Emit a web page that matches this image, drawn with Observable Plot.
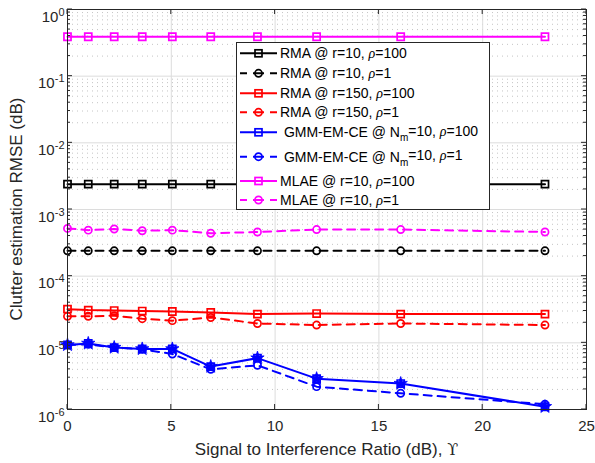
<!DOCTYPE html>
<html><head><meta charset="utf-8">
<script src="https://cdn.jsdelivr.net/npm/d3@7"></script>
<script src="https://cdn.jsdelivr.net/npm/@observablehq/plot@0.6"></script>
<style>
body{margin:0;background:#fff}
#chart{width:595px;height:463px}
</style>
</head><body><div id="chart"></div>
<script>
// ---- data ----
const sir = [0, 1, 2.25, 3.6, 5.05, 6.9, 9.15, 12, 16.05, 23];
const rma10_rho100  = [2.4e-3, 2.4e-3, 2.4e-3, 2.4e-3, 2.4e-3, 2.4e-3, 2.4e-3, 2.4e-3, 2.4e-3, 2.4e-3];
const rma10_rho1    = [2.4e-4, 2.4e-4, 2.4e-4, 2.4e-4, 2.4e-4, 2.4e-4, 2.4e-4, 2.4e-4, 2.4e-4, 2.4e-4];
const rma150_rho100 = [3.2e-5, 3.1e-5, 3.05e-5, 3.0e-5, 2.95e-5, 2.85e-5, 2.7e-5, 2.75e-5, 2.7e-5, 2.7e-5];
const rma150_rho1   = [2.5e-5, 2.5e-5, 2.55e-5, 2.3e-5, 2.15e-5, 2.4e-5, 1.95e-5, 1.85e-5, 1.95e-5, 1.85e-5];
const gmm_rho100    = [9.3e-6, 9.8e-6, 8.5e-6, 8.1e-6, 8.1e-6, 4.4e-6, 5.9e-6, 2.9e-6, 2.45e-6, 1.1e-6];
const gmm_rho1      = [9.3e-6, 9.5e-6, 8.5e-6, 8.0e-6, 6.8e-6, 4.0e-6, 4.6e-6, 2.2e-6, 1.75e-6, 1.2e-6];
const mlae_rho100   = [0.39, 0.39, 0.39, 0.39, 0.39, 0.39, 0.39, 0.39, 0.39, 0.39];
const mlae_rho1     = [5.2e-4, 4.9e-4, 5.1e-4, 4.8e-4, 4.9e-4, 4.4e-4, 4.6e-4, 5.0e-4, 5.0e-4, 4.6e-4];

const xTicks = [0, 5, 10, 15, 20, 25];
const yTicks = [1e-6, 1e-5, 1e-4, 1e-3, 1e-2, 1e-1, 1];
const yMinor = [];
for (let e = -6; e < 0; e++) for (let m = 2; m <= 9; m++) yMinor.push(m * Math.pow(10, e));

const xLabel = "Signal to Interference Ratio (dB),";
const xLabelSym = "\u03D2";
const yLabel = "Clutter estimation RMSE (dB)";

const series = [
  {key: "rma10_100",  vals: rma10_rho100,  color: "#000000", dashed: false, symbol: "square", pre: "RMA @ r=10, ", rho: "100"},
  {key: "rma10_1",    vals: rma10_rho1,    color: "#000000", dashed: true,  symbol: "circle", pre: "RMA @ r=10, ", rho: "1"},
  {key: "rma150_100", vals: rma150_rho100, color: "#ff0000", dashed: false, symbol: "square", pre: "RMA @ r=150, ", rho: "100"},
  {key: "rma150_1",   vals: rma150_rho1,   color: "#ff0000", dashed: true,  symbol: "circle", pre: "RMA @ r=150, ", rho: "1"},
  {key: "gmm_100",    vals: gmm_rho100,    color: "#0000ff", dashed: false, symbol: "square", pre: " GMM-EM-CE @ N", sub: "m", post: "=10, ", rho: "100"},
  {key: "gmm_1",      vals: gmm_rho1,      color: "#0000ff", dashed: true,  symbol: "circle", pre: " GMM-EM-CE @ N", sub: "m", post: "=10, ", rho: "1"},
  {key: "mlae_100",   vals: mlae_rho100,   color: "#ff00ff", dashed: false, symbol: "square", pre: "MLAE @ r=10, ", rho: "100"},
  {key: "mlae_1",     vals: mlae_rho1,     color: "#ff00ff", dashed: true,  symbol: "circle", pre: "MLAE @ r=10, ", rho: "1"}
];

const rows = s => sir.map((x, i) => ({x, y: s.vals[i]}));
const DASH = "8,6";

const marks = [
  Plot.ruleY(yMinor, {stroke: "#bdbdbd", strokeDasharray: "1,4", strokeWidth: 0.9}),
  Plot.ruleY(yTicks, {stroke: "#dcdcdc", strokeWidth: 1}),
  Plot.ruleX(xTicks, {stroke: "#dcdcdc", strokeWidth: 1})
];
for (const s of series) {
  marks.push(Plot.line(rows(s), {x: "x", y: "y", stroke: s.color, strokeWidth: 2, strokeDasharray: s.dashed ? DASH : null}));
}
for (const s of series) {
  marks.push(Plot.dot(rows(s), {x: "x", y: "y", symbol: s.symbol, r: s.symbol === "square" ? 4 : 3.6,
    stroke: s.color, strokeWidth: 1.7, fill: "none"}));
}
// blue filled star markers overlaid on the GMM curve
marks.push(Plot.dot(rows(series[4]), {x: "x", y: "y", symbol: "star", r: 4.2, fill: "#0000ff", stroke: "#0000ff", strokeWidth: 0.8}));
marks.push(Plot.frame({stroke: "#262626", strokeWidth: 1}));
marks.push(Plot.axisX(xTicks, {tickSize: 0, tickPadding: 11, fontSize: 15, label: null, tickFormat: d => String(d)}));
marks.push(Plot.axisY(yTicks, {tickSize: 0, tickPadding: 3, fontSize: 15, label: null, tickFormat: d => String(Math.round(Math.log10(d)))}));

const chart = Plot.plot({
  width: 595, height: 463,
  marginLeft: 67, marginRight: 9, marginTop: 9, marginBottom: 54,
  style: {fontFamily: "'Liberation Sans', Arial, Helvetica, sans-serif", fontSize: "15px", background: "#ffffff", color: "#262626"},
  x: {type: "linear", domain: [0, 25]},
  y: {type: "log", domain: [1e-6, 1]},
  marks
});
document.getElementById("chart").appendChild(chart);

const svg = d3.select(chart);
const sx = chart.scale("x"), sy = chart.scale("y");
const [X0, X1] = sx.range, [Y0, Y1] = sy.range; // Y0 bottom, Y1 top

// superscript exponents on y tick labels
svg.selectAll('g[aria-label="y-axis tick label"] text').each(function() {
  const t = d3.select(this);
  const e = t.text();
  t.text(null).attr("dy", "0.5em").attr("fill", "#262626");
  t.append("tspan").text("10");
  t.append("tspan").attr("dy", "-0.55em").attr("font-size", 11).text(e);
});
svg.selectAll('g[aria-label="x-axis tick label"] text').attr("fill", "#262626");

// inward ticks on all four sides
const tk = svg.append("g").attr("stroke", "#262626").attr("stroke-width", 1);
for (const v of xTicks) {
  const px = sx.apply(v);
  tk.append("line").attr("x1", px).attr("x2", px).attr("y1", Y0).attr("y2", Y0 - 5);
  tk.append("line").attr("x1", px).attr("x2", px).attr("y1", Y1).attr("y2", Y1 + 5);
}
for (const v of yTicks) {
  const py = sy.apply(v);
  tk.append("line").attr("x1", X0).attr("x2", X0 + 5).attr("y1", py).attr("y2", py);
  tk.append("line").attr("x1", X1).attr("x2", X1 - 5).attr("y1", py).attr("y2", py);
}
for (const v of yMinor) {
  const py = sy.apply(v);
  tk.append("line").attr("x1", X0).attr("x2", X0 + 3).attr("y1", py).attr("y2", py);
  tk.append("line").attr("x1", X1).attr("x2", X1 - 3).attr("y1", py).attr("y2", py);
}

// axis labels
const xl = svg.append("text").attr("x", (X0 + X1) / 2).attr("y", 455).attr("text-anchor", "middle")
  .attr("font-size", 17).attr("fill", "#262626");
xl.append("tspan").text(xLabel + " ");
xl.append("tspan").attr("font-family", "'DejaVu Serif', serif").attr("font-size", 16).text(xLabelSym);
svg.append("text").attr("transform", `translate(22,${(Y0 + Y1) / 2}) rotate(-90)`).attr("text-anchor", "middle")
  .attr("font-size", 17).attr("fill", "#262626").text(yLabel);

// legend
const lg = svg.append("g").attr("text-anchor", "start");
lg.append("rect").attr("x", 236.5).attr("y", 42.5).attr("width", 253).attr("height", 167)
  .attr("fill", "#fff").attr("stroke", "#262626").attr("stroke-width", 1);
const rowY = [53.3, 73.3, 93.3, 112.3, 132.3, 156.7, 181, 200];
series.forEach((s, i) => {
  const y = rowY[i];
  lg.append("line").attr("x1", 240).attr("x2", 277).attr("y1", y).attr("y2", y)
    .attr("stroke", s.color).attr("stroke-width", 2)
    .attr("stroke-dasharray", s.dashed ? "7,6,11,6,7" : null);
  if (s.symbol === "square") {
    lg.append("rect").attr("x", 258.5 - 3.5).attr("y", y - 3.5).attr("width", 7).attr("height", 7)
      .attr("fill", "none").attr("stroke", s.color).attr("stroke-width", 1.7);
  } else {
    lg.append("circle").attr("cx", 258.5).attr("cy", y).attr("r", 3.6)
      .attr("fill", "none").attr("stroke", s.color).attr("stroke-width", 1.7);
  }
  const t = lg.append("text").attr("x", 280).attr("y", y).attr("dy", "0.36em").attr("text-anchor", "start")
    .attr("font-size", 14).attr("fill", "#000").style("white-space", "pre");
  t.append("tspan").text(s.pre);
  if (s.sub) {
    t.append("tspan").attr("dy", "0.4em").attr("font-size", 10).text(s.sub);
    t.append("tspan").attr("dy", "-0.4em").text(s.post);
  }
  t.append("tspan").attr("font-family", "'Liberation Serif', 'Times New Roman', serif").attr("font-style", "italic").text("\u03C1");
  t.append("tspan").text("=" + s.rho);
});
</script>
</body></html>
